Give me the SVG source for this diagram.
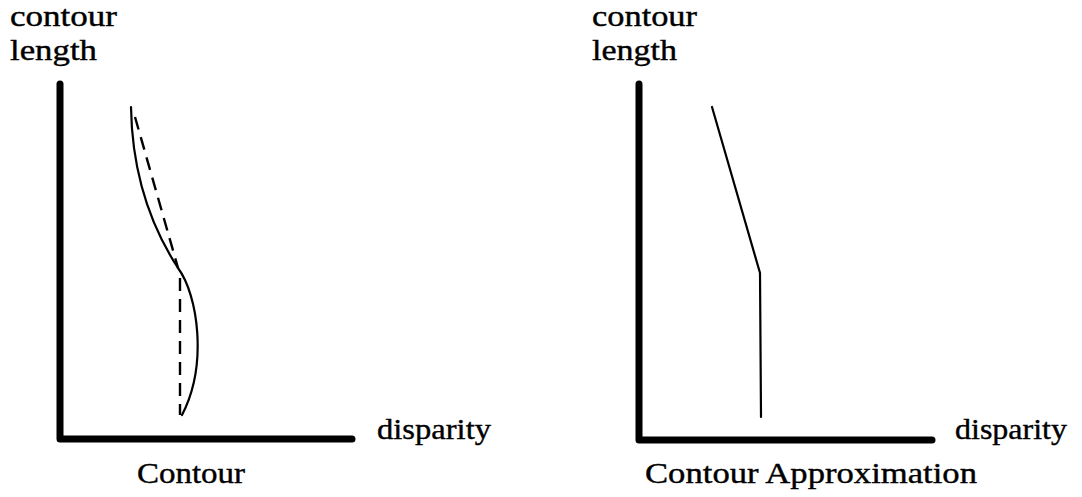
<svg xmlns="http://www.w3.org/2000/svg" width="1082" height="497" viewBox="0 0 1082 497">
<style>
.t{font-family:"Liberation Serif","Times New Roman",serif;font-size:30px;fill:#000;stroke:#000;stroke-width:0.4}
.axis{stroke:#000;stroke-width:7;stroke-linecap:round;stroke-linejoin:round;fill:none}
.curve{stroke:#000;stroke-width:2.2;fill:none;stroke-linecap:round}
.dash{stroke:#000;stroke-width:2.4;fill:none;stroke-dasharray:13 8}
</style>
<rect width="1082" height="497" fill="#fff"/>
<g id="left-plot">
<path class="axis" d="M60,84 L60,439 L352,439"/>
<text class="t" x="10" y="26" textLength="107" lengthAdjust="spacingAndGlyphs">contour</text>
<text class="t" x="10" y="60" textLength="87" lengthAdjust="spacingAndGlyphs">length</text>
<text class="t" x="377" y="439" textLength="114" lengthAdjust="spacingAndGlyphs">disparity</text>
<text class="t" x="137" y="483" textLength="108" lengthAdjust="spacingAndGlyphs">Contour</text>
</g>
<g id="right-plot">
<path class="axis" d="M639,84 L639,440 L932,440"/>
<text class="t" x="592" y="26" textLength="105" lengthAdjust="spacingAndGlyphs">contour</text>
<text class="t" x="592" y="60" textLength="85" lengthAdjust="spacingAndGlyphs">length</text>
<text class="t" x="955" y="439" textLength="112" lengthAdjust="spacingAndGlyphs">disparity</text>
<text class="t" x="645" y="483" textLength="332" lengthAdjust="spacingAndGlyphs">Contour Approximation</text>
</g>
<g id="connectors">
<path class="curve" d="M131,107 C132,170 150,225 178,268 C198,295 208,365 182,415"/>
<path class="dash" d="M135,117 L178,268"/>
<path class="dash" d="M180,278 L180,415"/>
<path class="curve" d="M712,107 L760,273 L761,417"/>
</g>
</svg>
